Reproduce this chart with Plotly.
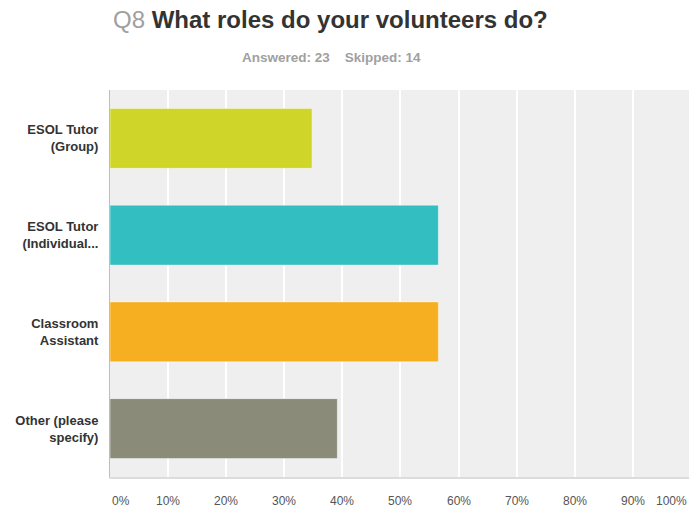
import plotly.graph_objects as go

# Survey responses, Q8 (percent of 23 respondents)
categories = ["ESOL Tutor<br>(Group)", "ESOL Tutor<br>(Individual...", "Classroom<br>Assistant", "Other (please<br>specify)"]
percentages = [34.78, 56.52, 56.52, 39.13]
bar_colors = ["#d0d52a", "#33bec1", "#f6af20", "#8a8b79"]
tick_values = [0, 10, 20, 30, 40, 50, 60, 70, 80, 90, 100]
tick_labels = ["0%", "10%", "20%", "30%", "40%", "50%", "60%", "70%", "80%", "90%", "100%"]

FONT = "Arial, Liberation Sans, sans-serif"

fig = go.Figure(
    go.Bar(
        x=percentages,
        y=categories,
        orientation="h",
        marker=dict(color=bar_colors, line=dict(color="rgba(255,255,255,0.45)", width=1)),
        width=0.62,
        hoverinfo="x+y",
    )
)

# x tick labels as annotations so the end labels stay inside the canvas
annotations = []
for v, lab in zip(tick_values, tick_labels):
    anchor = "left" if v == 0 else ("right" if v == 100 else "center")
    annotations.append(dict(
        x=v if v < 100 else 99.66, y=-0.062, xref="x", yref="paper",
        text=lab, showarrow=False, xanchor=anchor, yanchor="middle",
        font=dict(family=FONT, size=12, color="#555555"),
    ))

annotations.append(dict(
    x=(331 - 110) / 579, y=(477 - 57) / 387, xref="paper", yref="paper",
    text="Answered: 23&nbsp;&nbsp;&nbsp;&nbsp;Skipped: 14", showarrow=False,
    xanchor="center", yanchor="middle",
    font=dict(family=FONT, size=13.5, color="#a0a0a0", weight="bold"),
))

fig.update_layout(
    width=689, height=509,
    margin=dict(l=110, r=0, t=90, b=32),
    paper_bgcolor="white",
    plot_bgcolor="#efefef",
    showlegend=False,
    bargap=0.38,
    title=dict(
        text="<span style='color:#a0a0a0;font-weight:normal'>Q8</span> <b>What roles do your volunteers do?</b>",
        x=113 / 689, xanchor="left", xref="container",
        y=1 - 20 / 509, yanchor="middle", yref="container",
        font=dict(family=FONT, size=24, color="#333333"),
    ),
    xaxis=dict(
        range=[0, 99.66],
        tickvals=tick_values,
        showticklabels=False,
        showgrid=True, gridcolor="white", gridwidth=2,
        zeroline=False,
        showline=True, linecolor="#dcdcdc", linewidth=2,
        fixedrange=True,
    ),
    yaxis=dict(
        autorange="reversed",
        showgrid=False,
        zeroline=False,
        showline=True, linecolor="#bdbdbd", linewidth=1,
        ticks="", ticklabelstandoff=8,
        tickfont=dict(family=FONT, size=13, color="#333333", weight="bold"),
        fixedrange=True,
    ),
    annotations=annotations,
)

fig.write_html("out.html")
